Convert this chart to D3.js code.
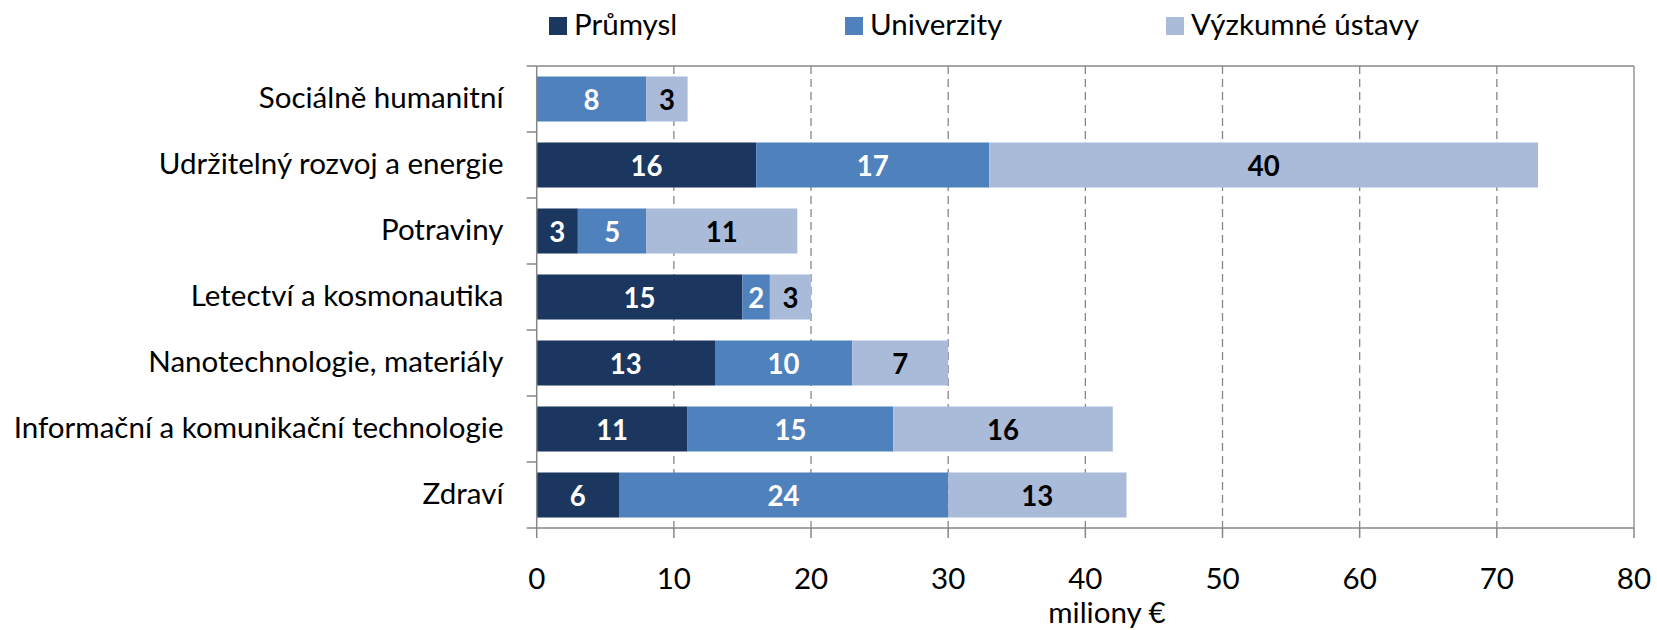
<!DOCTYPE html>
<html>
<head>
<meta charset="utf-8">
<script src="https://cdn.jsdelivr.net/npm/d3@7"></script>
<style>
  html, body { margin: 0; padding: 0; background: #ffffff; }
  svg { display: block; }
</style>
</head>
<body>
<svg id="chart" width="1657" height="630"></svg>
<script>
// ---- data ----
const categories = [
  "Sociálně humanitní",
  "Udržitelný rozvoj a energie",
  "Potraviny",
  "Letectví a kosmonautika",
  "Nanotechnologie, materiály",
  "Informační a komunikační technologie",
  "Zdraví"
];
const seriesNames = ["Průmysl", "Univerzity", "Výzkumné ústavy"];
const prumysl    = [0, 16, 3, 15, 13, 11, 6];
const univerzity = [8, 17, 5, 2, 10, 15, 24];
const ustavy     = [3, 40, 11, 3, 7, 16, 13];
const xTicks = [0, 10, 20, 30, 40, 50, 60, 70, 80];
const axisTitle = "miliony €";

// ---- style ----
const colors = ["#1b375f", "#4f81bd", "#aabad9"];
const labelColors = ["#ffffff", "#ffffff", "#000000"];
const FONT = "Lato, 'Open Sans', sans-serif";
const gridColor = "#878787";

const svg = d3.select("#chart");

function measure(str, weight) {
  const t = svg.append("text").attr("font-family", FONT).attr("font-size", 100)
    .attr("font-weight", weight).text(str);
  const w = t.node().getComputedTextLength();
  t.remove();
  return w;
}
const fsReg = 100 * 490 / measure("Informační a komunikační technologie", "normal");
const fsBold = 100 * 32 / measure("24", "bold");

const pLeft = 536.7, pRight = 1634, pTop = 66, pBottom = 528;

const x = d3.scaleLinear().domain([0, 80]).range([pLeft, pRight]);
const y = d3.scaleBand().domain(categories).range([pTop, pBottom])
  .paddingInner(0.318).paddingOuter(0.159);

const table = categories.map((c, i) => ({
  cat: c, "Průmysl": prumysl[i], "Univerzity": univerzity[i], "Výzkumné ústavy": ustavy[i]
}));
const stacked = d3.stack().keys(seriesNames)(table);

// gridlines (dashed)
svg.append("g").selectAll("line")
  .data(xTicks.filter(t => t > 0 && t < 80))
  .join("line")
  .attr("x1", d => x(d)).attr("x2", d => x(d))
  .attr("y1", pTop).attr("y2", pBottom)
  .attr("stroke", gridColor).attr("stroke-width", 1.3)
  .attr("stroke-dasharray", "8,5");

// plot border top & right
svg.append("line").attr("x1", x(0)).attr("x2", x(80)).attr("y1", pTop).attr("y2", pTop)
  .attr("stroke", gridColor).attr("stroke-width", 1.3);
svg.append("line").attr("x1", x(80)).attr("x2", x(80)).attr("y1", pTop).attr("y2", pBottom)
  .attr("stroke", gridColor).attr("stroke-width", 1.3);

// bars
const layers = svg.append("g").selectAll("g").data(stacked).join("g")
  .attr("fill", (d, i) => colors[i]);
layers.selectAll("rect").data(d => d).join("rect")
  .attr("x", d => x(d[0]))
  .attr("width", d => x(d[1]) - x(d[0]))
  .attr("y", d => y(d.data.cat))
  .attr("height", y.bandwidth());

// bar labels
stacked.forEach((layer, si) => {
  svg.append("g").selectAll("text")
    .data(layer.filter(d => d[1] - d[0] > 0))
    .join("text")
    .attr("x", d => (x(d[0]) + x(d[1])) / 2)
    .attr("y", d => y(d.data.cat) + y.bandwidth() / 2 + fsBold * 0.36 + 1)
    .attr("text-anchor", "middle")
    .attr("font-family", FONT).attr("font-weight", "bold")
    .attr("font-size", fsBold)
    .attr("fill", labelColors[si])
    .text(d => d[1] - d[0]);
});

// left axis line + ticks at band boundaries
svg.append("line").attr("x1", pLeft).attr("x2", pLeft).attr("y1", pTop).attr("y2", pBottom)
  .attr("stroke", gridColor).attr("stroke-width", 1.5);
const boundaries = d3.range(categories.length + 1).map(i => pTop + i * y.step());
svg.append("g").selectAll("line").data(boundaries).join("line")
  .attr("x1", pLeft - 10).attr("x2", pLeft).attr("y1", d => d).attr("y2", d => d)
  .attr("stroke", gridColor).attr("stroke-width", 1.5);

// bottom axis
svg.append("line").attr("x1", pLeft).attr("x2", pRight).attr("y1", pBottom).attr("y2", pBottom)
  .attr("stroke", gridColor).attr("stroke-width", 1.5);
svg.append("g").selectAll("line").data(xTicks).join("line")
  .attr("x1", d => x(d)).attr("x2", d => x(d)).attr("y1", pBottom).attr("y2", pBottom + 10)
  .attr("stroke", gridColor).attr("stroke-width", 1.5);

// category labels
svg.append("g").selectAll("text").data(categories).join("text")
  .attr("x", 503.5)
  .attr("y", d => y(d) + y.bandwidth() / 2 + fsReg * 0.36 - 2)
  .attr("text-anchor", "end")
  .attr("font-family", FONT).attr("font-size", fsReg).attr("fill", "#000")
  .text(d => d);

// x tick labels
svg.append("g").selectAll("text").data(xTicks).join("text")
  .attr("x", d => x(d)).attr("y", 589)
  .attr("text-anchor", "middle")
  .attr("font-family", FONT).attr("font-size", fsReg).attr("fill", "#000")
  .text(d => d);

// axis title
svg.append("text").attr("x", 1107).attr("y", 623)
  .attr("text-anchor", "middle")
  .attr("font-family", FONT).attr("font-size", fsReg).attr("fill", "#000")
  .text(axisTitle);

// legend
const legendX = [549, 845, 1166];
const leg = svg.append("g").selectAll("g").data(seriesNames).join("g")
  .attr("transform", (d, i) => `translate(${legendX[i]},0)`);
leg.append("rect").attr("x", 0).attr("y", 17).attr("width", 18).attr("height", 18)
  .attr("fill", (d, i) => colors[i]);
leg.append("text").attr("x", 25).attr("y", 35)
  .attr("font-family", FONT).attr("font-size", fsReg).attr("fill", "#000")
  .text(d => d);
</script>
</body>
</html>
